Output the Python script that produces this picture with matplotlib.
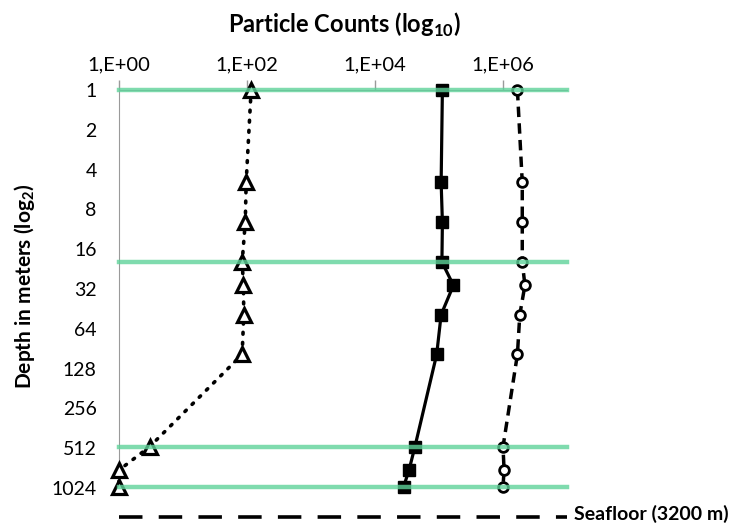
import matplotlib
matplotlib.use("Agg")
import matplotlib.pyplot as plt
import numpy as np

plt.rcParams['font.family'] = ['Lato', 'DejaVu Sans']
plt.rcParams['mathtext.fontset'] = 'custom'
plt.rcParams['mathtext.rm'] = 'Lato'
plt.rcParams['mathtext.bf'] = 'Lato:bold'

# Data
depths = [1, 5, 10, 20, 30, 50, 100, 500, 750, 1000]
triangles = [116, 97, 94, 84, 88, 89, 84, 3, 1, 1]
squares = [1.13e5, 1.08e5, 1.13e5, 1.11e5, 1.68e5, 1.08e5, 9.2e4, 4.2e4, 3.4e4, 2.8e4]
circles = [1.68e6, 2.0e6, 2.0e6, 2.0e6, 2.2e6, 1.83e6, 1.68e6, 1.0e6, 1.04e6, 1.0e6]
green_depths = [1, 20, 500, 1000]
x_ticks = [1e0, 1e2, 1e4, 1e6]
x_tick_labels = ["1,E+00", "1,E+02", "1,E+04", "1,E+06"]
y_ticks = [2 ** i for i in range(11)]
y_tick_labels = [str(v) for v in y_ticks]

fig = plt.figure(figsize=(7.45, 5.25), dpi=100)
ax = fig.add_axes([119 / 745, 1 - 488 / 525, (567 - 119) / 745, (488 - 90) / 525])

ax.set_xscale('log')
ax.set_yscale('log', base=2)
ax.set_xlim(1, 1e7)
ax.set_ylim(1024, 1)

for d in green_depths:
    ax.axhline(d, color='#5fd39a', lw=3.2, alpha=0.8, zorder=5, clip_on=False)

ax.plot(triangles, depths, color='black', ls=(0, (0.5, 2.3)), lw=2.6,
        dash_capstyle='round', marker='^', ms=10, mfc='white', mec='black',
        mew=2.3, zorder=3, clip_on=False)
ax.plot(squares, depths, color='black', ls='-', lw=2.3, marker='s', ms=8.5,
        mfc='black', mec='black', zorder=3, clip_on=False)
ax.plot(circles, depths, color='black', ls=(0, (3, 1.8)), lw=2.5, marker='o',
        ms=7, mfc='white', mec='black', mew=2, zorder=3, clip_on=False)

ax.xaxis.tick_top()
ax.set_xticks(x_ticks)
ax.set_xticklabels(x_tick_labels, fontsize=14.5)
ax.xaxis.set_minor_locator(matplotlib.ticker.NullLocator())
ax.tick_params(axis='x', which='major', direction='out', length=7, width=1,
               color='#9a9a9a', pad=5)

ax.set_yticks(y_ticks)
ax.set_yticklabels(y_tick_labels, fontsize=14)
ax.yaxis.set_minor_locator(matplotlib.ticker.NullLocator())
ax.tick_params(axis='y', which='major', length=0, pad=16)

for s in ['right', 'bottom']:
    ax.spines[s].set_visible(False)
ax.spines['left'].set_color('#9a9a9a')
ax.spines['top'].set_color('#9a9a9a')

fig.text(344 / 745, 1 - 33 / 525, r"Particle Counts (log$_{\mathbf{10}}$)",
         ha='center', va='baseline', fontsize=17, fontweight='bold')
fig.text(25 / 745, 1 - 286 / 525, r"Depth in meters (log$_{\mathbf{2}}$)",
         ha='center', va='center', fontsize=15, fontweight='bold', rotation=90)

# Seafloor marker
ax.plot([0.0, 1.0], [-0.073, -0.073], transform=ax.transAxes, color='black',
        lw=2.6, ls=(0, (6.5, 4.5)), clip_on=False)
fig.text(574 / 745, 1 - 523 / 525, "Seafloor (3200 m)", ha='left', va='bottom',
         fontsize=14, fontweight='bold')

fig.savefig("out.png", dpi=100)
